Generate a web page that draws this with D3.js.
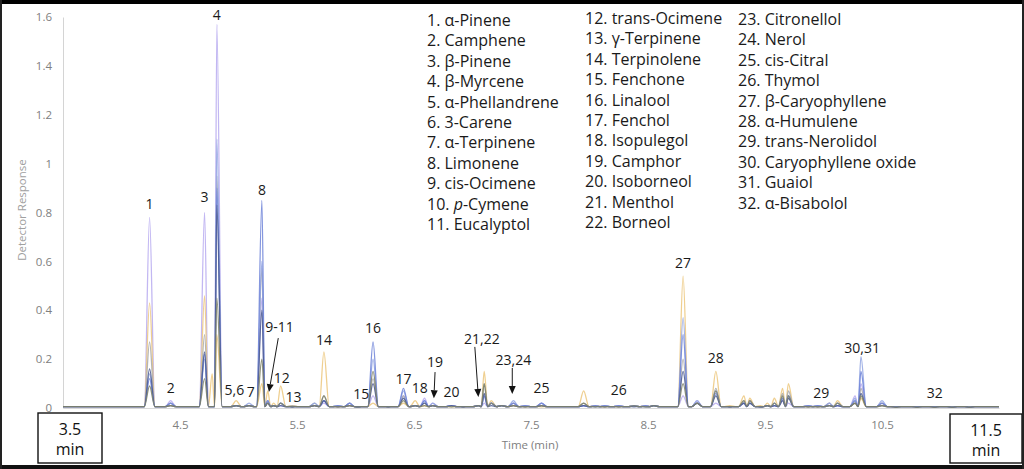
<!DOCTYPE html>
<html><head><meta charset="utf-8">
<script src="https://cdn.jsdelivr.net/npm/d3@7"></script>
<style>
html,body{margin:0;padding:0;background:#fff;}
svg{display:block;font-family:"Open Sans","Noto Sans",sans-serif;}
</style></head>
<body>
<svg id="chart" width="1024" height="469"></svg>
<script>
// ---- data ----
const peakTimes = [4.24,4.42,4.71,4.775,4.815,4.98,5.09,5.20,5.25,5.30,5.36,5.46,5.65,5.73,5.85,5.95,6.03,6.15,6.28,6.41,6.51,6.59,6.66,6.82,6.92,7.05,7.10,7.16,7.25,7.35,7.45,7.59,7.95,8.05,8.13,8.25,8.38,8.48,8.55,8.80,8.92,9.08,9.20,9.32,9.37,9.46,9.52,9.58,9.65,9.70,9.87,9.95,10.05,10.12,10.27,10.32,10.50,10.62,10.80,10.95,11.10,11.25];
const sampleLavender = [0.78,0.03,0.80,0,1.57,0.01,0.01,0.45,0.02,0.01,0.01,0.005,0.01,0.02,0.005,0.01,0.005,0.05,0.005,0.05,0.01,0.04,0.02,0.01,0.005,0.01,0.02,0.02,0.01,0.02,0.01,0.02,0.01,0.01,0.01,0.01,0.01,0.01,0.01,0.05,0.03,0.02,0.005,0.02,0.03,0.005,0.01,0.01,0.03,0.02,0.01,0.01,0.02,0.01,0.05,0.10,0.02,0.005,0.005,0.005,0.003,0.003];
const sampleGold = [0.43,0.01,0.46,0.14,0.30,0.03,0.01,0.10,0.07,0.02,0.09,0.01,0.01,0.23,0.005,0.01,0.005,0.02,0.005,0.02,0.03,0.01,0.01,0.005,0.005,0.01,0.15,0.03,0.01,0.01,0.005,0.005,0.07,0.01,0.005,0.005,0.01,0.01,0.01,0.54,0.02,0.15,0.01,0.05,0.04,0.01,0.02,0.04,0.08,0.10,0.005,0.005,0.01,0.03,0.02,0.04,0.01,0.003,0.005,0.003,0.003,0.003];
const sampleGrey = [0.27,0.02,0.30,0,0.95,0.01,0.01,0.57,0.03,0.01,0.02,0.01,0.02,0.05,0.01,0.02,0.005,0.12,0.005,0.05,0.01,0.02,0.01,0.01,0.005,0.01,0.10,0.02,0.01,0.02,0.01,0.01,0.02,0.01,0.01,0.01,0.01,0.01,0.01,0.20,0.02,0.08,0.005,0.03,0.03,0.005,0.01,0.02,0.06,0.07,0.01,0.01,0.02,0.02,0.03,0.08,0.02,0.005,0.005,0.005,0.003,0.003];
const sampleLightBlue = [0.14,0.02,0.20,0,1.10,0.01,0.02,0.60,0.03,0.01,0.02,0.005,0.02,0.03,0.01,0.02,0.005,0.20,0.005,0.07,0.01,0.03,0.02,0.01,0.005,0.01,0.05,0.02,0.01,0.03,0.01,0.02,0.01,0.01,0.01,0.01,0.01,0.01,0.01,0.37,0.03,0.07,0.005,0.02,0.02,0.005,0.01,0.02,0.04,0.05,0.01,0.01,0.02,0.02,0.04,0.21,0.03,0.005,0.005,0.005,0.003,0.003];
const sampleBlue = [0.12,0.02,0.22,0,0.90,0.01,0.01,0.85,0.03,0.01,0.02,0.005,0.01,0.03,0.01,0.02,0.005,0.27,0.005,0.08,0.01,0.03,0.01,0.01,0.005,0.01,0.05,0.02,0.01,0.02,0.01,0.02,0.01,0.01,0.01,0.01,0.01,0.01,0.01,0.30,0.02,0.06,0.005,0.02,0.02,0.005,0.01,0.01,0.04,0.05,0.01,0.01,0.01,0.01,0.03,0.15,0.02,0.005,0.005,0.005,0.003,0.003];
const sampleNavy = [0.16,0.01,0.23,0,0.83,0.01,0.01,0.40,0.02,0.01,0.01,0.005,0.01,0.03,0.005,0.01,0.005,0.10,0.005,0.04,0.01,0.02,0.01,0.01,0.005,0.01,0.06,0.01,0.01,0.01,0.005,0.01,0.01,0.005,0.005,0.005,0.005,0.005,0.01,0.15,0.02,0.05,0.005,0.02,0.02,0.005,0.01,0.01,0.03,0.04,0.005,0.005,0.01,0.01,0.02,0.06,0.01,0.003,0.003,0.003,0.003,0.003];
const sampleOlive = [0.09,0.01,0.12,0,0.45,0.01,0.01,0.20,0.02,0.01,0.02,0.005,0.01,0.05,0.005,0.01,0.005,0.15,0.005,0.03,0.01,0.01,0.01,0.005,0.005,0.01,0.10,0.02,0.01,0.01,0.005,0.01,0.02,0.005,0.005,0.005,0.01,0.005,0.01,0.10,0.02,0.07,0.005,0.03,0.03,0.005,0.01,0.02,0.05,0.05,0.005,0.005,0.01,0.02,0.02,0.05,0.01,0.003,0.003,0.003,0.003,0.003];
const seriesNames = ["Sample A","Sample B","Sample C","Sample D","Sample E","Sample F","Sample G"];
const seriesValues = [sampleLavender,sampleGold,sampleGrey,sampleLightBlue,sampleBlue,sampleNavy,sampleOlive];
const seriesColors = ["#b7aaf0","#ecc77c","#a9a9a9","#93a6e2","#6f84d8","#4a5990","#7e8268"];
const peakHalfWidth = 0.045;
const baselineValue = 0.006;

const yTickValues = [0,0.2,0.4,0.6,0.8,1,1.2,1.4,1.6];
const yTickLabels = ["0","0.2","0.4","0.6","0.8","1","1.2","1.4","1.6"];
const xTickValues = [4.5,5.5,6.5,7.5,8.5,9.5,10.5];
const xTickLabels = ["4.5","5.5","6.5","7.5","8.5","9.5","10.5"];

const peakLabels = ["1","2","3","4","5,6","7","8","9-11","12","13","14","15","16","17","18","19","20","21,22","23,24","25","26","27","28","29","30,31","32"];
const peakLabelTimes = [4.24,4.42,4.71,4.815,4.965,5.105,5.20,5.35,5.37,5.47,5.73,6.05,6.15,6.41,6.55,6.68,6.82,7.08,7.35,7.59,8.25,8.80,9.08,9.98,10.33,10.95];
const peakLabelValues = [0.815,0.061,0.843,1.587,0.053,0.045,0.871,0.311,0.102,0.025,0.258,0.037,0.307,0.10,0.061,0.168,0.045,0.262,0.176,0.061,0.053,0.573,0.184,0.041,0.225,0.041];
const arrowStartTimes = [5.34,6.68,7.02,7.34];
const arrowStartValues = [0.286,0.147,0.25,0.164];
const arrowEndTimes = [5.26,6.67,7.05,7.34];
const arrowEndValues = [0.065,0.04,0.045,0.057];

const legendCol1 = ["1. α-Pinene","2. Camphene","3. β-Pinene","4. β-Myrcene","5. α-Phellandrene","6. 3-Carene","7. α-Terpinene","8. Limonene","9. cis-Ocimene","10. |p|-Cymene","11. Eucalyptol"];
const legendCol2 = ["12. trans-Ocimene","13. γ-Terpinene","14. Terpinolene","15. Fenchone","16. Linalool","17. Fenchol","18. Isopulegol","19. Camphor","20. Isoborneol","21. Menthol","22. Borneol"];
const legendCol3 = ["23. Citronellol","24. Nerol","25. cis-Citral","26. Thymol","27. β-Caryophyllene","28. α-Humulene","29. trans-Nerolidol","30. Caryophyllene oxide","31. Guaiol","32. α-Bisabolol"];

// ---- drawing ----
const svg = d3.select("#chart");
const W = 1024, H = 469;
const x = d3.scaleLinear().domain([3.5, 11.5]).range([63, 999]);
const y = d3.scaleLinear().domain([0, 1.6]).range([408, 17]);

svg.append("rect").attr("width", W).attr("height", H).attr("fill", "#fff");

const yAxis = svg.append("g").attr("transform", "translate(63,0)")
  .call(d3.axisLeft(y).tickValues(yTickValues).tickFormat((d,i)=>yTickLabels[i]).tickSize(0).tickPadding(11));
yAxis.select(".domain").attr("stroke", "#d4d4d4").attr("stroke-width", 1);
yAxis.selectAll("text").attr("fill", "#808080").style("font-size", "11.5px").style("font-family", "'Open Sans',sans-serif");

const xAxis = svg.append("g").attr("transform", "translate(0,408)")
  .call(d3.axisBottom(x).tickValues(xTickValues).tickFormat((d,i)=>xTickLabels[i]).tickSize(0).tickPadding(13));
xAxis.select(".domain").attr("stroke", "#d9d9d9");
xAxis.selectAll("text").attr("fill", "#808080").style("font-size", "11.5px").style("font-family", "'Open Sans',sans-serif");

svg.append("text").attr("x", 530).attr("y", 449).attr("text-anchor", "middle")
  .attr("fill", "#808080").style("font-size", "11.5px").text("Time (min)");
svg.append("text").attr("transform", "translate(26,210) rotate(-90)").attr("text-anchor", "middle")
  .attr("fill", "#a0a0a0").style("font-size", "11.5px").text("Detector Response");

function buildPoints(vals) {
  const pts = [[3.5, baselineValue]];
  peakTimes.forEach((t, i) => {
    const h = vals[i];
    if (!h) return;
    const prev = i > 0 ? (peakTimes[i-1] + t) / 2 : 3.5;
    const next = i < peakTimes.length - 1 ? (t + peakTimes[i+1]) / 2 : 11.5;
    const l = Math.max(t - peakHalfWidth, prev);
    const r = Math.min(t + peakHalfWidth, next);
    if (l > pts[pts.length-1][0]) pts.push([l, baselineValue]);
    pts.push([t, h]);
    pts.push([r, baselineValue]);
  });
  pts.push([11.5, baselineValue]);
  return pts;
}
const line = d3.line().x(d => x(d[0])).y(d => y(d[1])).curve(d3.curveMonotoneX);
svg.append("g").selectAll("path").data(seriesValues).join("path")
  .attr("d", v => line(buildPoints(v)))
  .attr("fill", "none")
  .attr("stroke", (d,i) => seriesColors[i])
  .attr("stroke-width", 1.3)
  .attr("stroke-opacity", 0.85)
  .attr("stroke-linejoin", "round");

svg.append("g").selectAll("text").data(peakLabels).join("text")
  .attr("x", (d,i) => x(peakLabelTimes[i]))
  .attr("y", (d,i) => y(peakLabelValues[i]))
  .attr("text-anchor", "middle")
  .attr("fill", "#1a1a1a")
  .style("font-size", "14px")
  .text(d => d);

const arrowG = svg.append("g");
arrowStartTimes.forEach((t, i) => {
  const x1 = x(t), y1 = y(arrowStartValues[i]);
  const x2 = x(arrowEndTimes[i]), y2 = y(arrowEndValues[i]);
  const ang = Math.atan2(y2 - y1, x2 - x1);
  const len = 8, hw = 3.5;
  const bx = x2 - len * Math.cos(ang), by = y2 - len * Math.sin(ang);
  arrowG.append("line").attr("x1", x1).attr("y1", y1).attr("x2", bx).attr("y2", by)
    .attr("stroke", "#1a1a1a").attr("stroke-width", 1);
  const px = -Math.sin(ang) * hw, py = Math.cos(ang) * hw;
  arrowG.append("path").attr("d", `M${x2},${y2}L${bx+px},${by+py}L${bx-px},${by-py}Z`).attr("fill", "#111");
});

function legendColumn(items, x0, y0) {
  const g = svg.append("g");
  items.forEach((s, i) => {
    const t = g.append("text").attr("x", x0).attr("y", y0 + i * 20.4).attr("fill", "#1a1a1a").style("font-size", "16px");
    s.split("|").forEach((p, j) => {
      if (!p) return;
      const ts = t.append("tspan").text(p);
      if (j === 1) ts.style("font-style", "italic");
    });
  });
}
legendColumn(legendCol1, 427, 26);
legendColumn(legendCol2, 585, 24);
legendColumn(legendCol3, 738, 25);

function minBox(bx, by, bw, bh, top) {
  svg.append("rect").attr("x", bx).attr("y", by).attr("width", bw).attr("height", bh)
    .attr("fill", "#fff").attr("stroke", "#111").attr("stroke-width", 1.4);
  svg.append("text").attr("x", bx + bw/2).attr("y", by + 22).attr("text-anchor", "middle").attr("fill", "#111").style("font-size", "16px").text(top);
  svg.append("text").attr("x", bx + bw/2).attr("y", by + 42).attr("text-anchor", "middle").attr("fill", "#111").style("font-size", "16px").text("min");
}
minBox(38, 413, 64, 50, "3.5");
minBox(950, 414, 72, 49, "11.5");

svg.append("rect").attr("x", 0).attr("y", 0).attr("width", W).attr("height", 4).attr("fill", "#000");
svg.append("rect").attr("x", 0).attr("y", 465).attr("width", W).attr("height", 4).attr("fill", "#111");
svg.append("rect").attr("x", 0).attr("y", 0).attr("width", 2).attr("height", H).attr("fill", "#222");
svg.append("rect").attr("x", 1022).attr("y", 0).attr("width", 2).attr("height", H).attr("fill", "#222");
</script>
</body></html>
